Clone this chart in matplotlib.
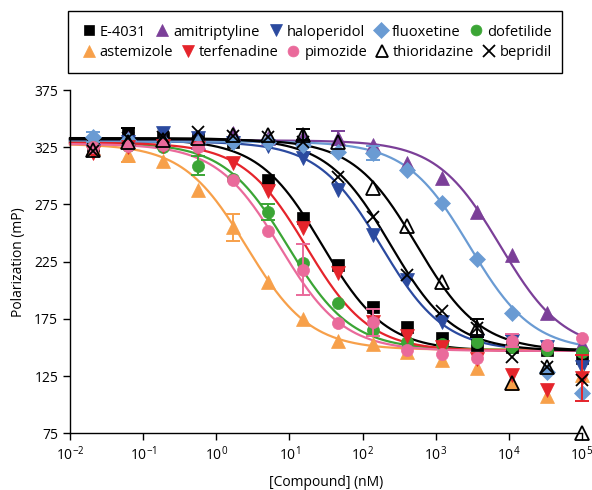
import numpy as np
import matplotlib as mpl
import matplotlib.pyplot as plt
from matplotlib.lines import Line2D
from matplotlib.patches import Rectangle

# 3-fold dilution series, nM (lowest to highest)
CONC = 100000.0 / 3.0 ** np.arange(14, -1, -1)

COMPOUNDS = ["E-4031", "amitriptyline", "haloperidol", "fluoxetine", "dofetilide",
             "astemizole", "terfenadine", "pimozide", "thioridazine", "bepridil"]

# mean polarization (mP)
E4031 = [326, 337, 333, 332, 330, 296, 263, 222, 185, 168, 158, 152, 150, 148, 141]
AMITRIPTYLINE = [324, 333, 333, 330, 337, 333, 334, 333, 327, 311, 298, 268, 231, 180, 153]
HALOPERIDOL = [322, 330, 337, 333, 329, 326, 316, 288, 248, 209, 172, 156, 156, 150, 133]
FLUOXETINE = [334, 331, 330, 329, 330, 330, 327, 321, 320, 305, 276, 227, 180, 129, 110]
DOFETILIDE = [325, 326, 325, 309, 297, 268, 224, 189, 165, 155, 153, 155, 150, 148, 146]
ASTEMIZOLE = [324, 318, 313, 288, 255, 207, 175, 156, 153, 146, 139, 132, 119, 108, 126]
TERFENADINE = [320, 325, 326, 324, 311, 287, 254, 215, 172, 160, 150, 140, 126, 113, 123]
PIMOZIDE = [325, 326, 327, 325, 296, 252, 218, 171, 172, 148, 144, 141, 156, 152, 158]
THIORIDAZINE = [323, 330, 331, 333, 336, 336, 336, 330, 289, 256, 207, 167, 119, 133, 75]
BEPRIDIL = [322, 333, 334, 338, 335, 334, 330, 299, 264, 213, 182, 167, 142, 133, 122]

# error bars (mP), 0 = none drawn
E4031_ERR = [0, 5, 0, 0, 0, 0, 0, 0, 0, 0, 0, 0, 0, 0, 0]
AMITRIPTYLINE_ERR = [0, 0, 0, 0, 0, 0, 0, 6, 0, 0, 0, 0, 0, 0, 0]
HALOPERIDOL_ERR = [0, 0, 0, 0, 0, 0, 0, 0, 0, 0, 0, 0, 5, 0, 0]
FLUOXETINE_ERR = [4, 0, 0, 0, 0, 0, 0, 0, 6, 0, 0, 0, 0, 0, 0]
DOFETILIDE_ERR = [0, 0, 0, 8, 0, 7, 0, 0, 0, 0, 0, 0, 0, 0, 0]
ASTEMIZOLE_ERR = [0, 6, 0, 0, 12, 0, 0, 0, 0, 0, 0, 0, 0, 0, 0]
TERFENADINE_ERR = [0, 0, 0, 0, 0, 0, 0, 0, 0, 0, 0, 0, 0, 0, 20]
PIMOZIDE_ERR = [0, 0, 0, 0, 0, 0, 22, 0, 12, 0, 0, 0, 6, 0, 0]
THIORIDAZINE_ERR = [0, 0, 0, 0, 0, 0, 5, 0, 0, 0, 0, 0, 0, 0, 0]
BEPRIDIL_ERR = [0, 0, 0, 0, 0, 0, 0, 0, 0, 0, 0, 8, 0, 0, 0]

# four-parameter logistic fit parameters: top, bottom, IC50 (nM), Hill slope
TOP = [332, 331, 330, 330, 329, 328, 329, 328, 332, 333]
BOTTOM = [147, 147, 147, 147, 148, 148, 147, 147, 147, 147]
IC50 = [28, 7600, 180, 2900, 9.5, 2.6, 17, 7.5, 550, 240]
HILL = [1.0] * 10

VALUES = [E4031, AMITRIPTYLINE, HALOPERIDOL, FLUOXETINE, DOFETILIDE,
          ASTEMIZOLE, TERFENADINE, PIMOZIDE, THIORIDAZINE, BEPRIDIL]
ERRORS = [E4031_ERR, AMITRIPTYLINE_ERR, HALOPERIDOL_ERR, FLUOXETINE_ERR, DOFETILIDE_ERR,
          ASTEMIZOLE_ERR, TERFENADINE_ERR, PIMOZIDE_ERR, THIORIDAZINE_ERR, BEPRIDIL_ERR]

COLORS = ["#000000", "#7B3F98", "#2B4A9F", "#6A9BD3", "#3BA535",
          "#F7A04A", "#E5242B", "#EA6A9B", "#000000", "#000000"]
MARKERS = ["s", "^", "v", "D", "o", "^", "v", "o", "^", "x"]
SIZES = [8, 9.5, 9.5, 8.5, 8.7, 9.5, 9.5, 8.7, 9.5, 9]

mpl.rcParams.update({
    "font.family": ["Open Sans", "DejaVu Sans"],
    "font.size": 10,
    "mathtext.fontset": "custom",
    "mathtext.rm": "Open Sans",
    "axes.spines.top": False, "axes.spines.right": False,
})


def logistic(x, top, bottom, ic50, hill):
    return bottom + (top - bottom) / (1.0 + (x / ic50) ** hill)


fig = plt.figure(figsize=(5.92, 4.90), dpi=100)
ax = fig.add_axes([0.1182, 0.1157, 0.8649, 0.7006])

xs = np.logspace(-2, 5, 400)
for i in range(len(COMPOUNDS)):
    ax.plot(xs, logistic(xs, TOP[i], BOTTOM[i], IC50[i], HILL[i]),
            color=COLORS[i], linewidth=1.6, zorder=2, clip_on=False)

handles = []
for i, name in enumerate(COMPOUNDS):
    open_marker = name == "thioridazine"
    face = "none" if open_marker else COLORS[i]
    mew = 1.3 if MARKERS[i] == "x" or open_marker else 0.5
    ax.plot(CONC, VALUES[i], linestyle="none", marker=MARKERS[i], markersize=SIZES[i],
            color=COLORS[i], markerfacecolor=face, markeredgecolor=COLORS[i],
            markeredgewidth=mew, zorder=3, clip_on=False)
    err = np.array(ERRORS[i], dtype=float)
    mask = err > 0
    if mask.any():
        ax.errorbar(CONC[mask], np.array(VALUES[i])[mask], yerr=err[mask], fmt="none",
                    ecolor=COLORS[i], elinewidth=1.4, capsize=5, capthick=1.4,
                    zorder=3, clip_on=False)
    handles.append(Line2D([], [], linestyle="none", marker=MARKERS[i], markersize=SIZES[i] * 0.9,
                          color=COLORS[i], markerfacecolor=face, markeredgecolor=COLORS[i],
                          markeredgewidth=mew, label=name))

ax.set_xscale("log")
ax.set_xlim(1e-2, 1e5)
ax.set_ylim(75, 375)
ax.set_xticks([10.0 ** p for p in range(-2, 6)])
ax.set_xticklabels([r"$\mathregular{10^{%d}}$" % p for p in range(-2, 6)])
ax.xaxis.set_minor_locator(mpl.ticker.NullLocator())
ax.set_yticks(range(75, 376, 50))
ax.tick_params(direction="out", length=5, width=1, labelsize=10)
for side in ("left", "bottom"):
    ax.spines[side].set_linewidth(1.0)
ax.set_xlabel("[Compound] (nM)", fontsize=10, labelpad=8)
ax.set_ylabel("Polarization (mP)", fontsize=10, labelpad=6)

# two one-row legends inside a shared frame, each row spread on its own
W, H = 592.0, 490.0
for row, yc in ((0, 32), (1, 53)):
    idx = range(row * 5, row * 5 + 5)
    fig.legend([handles[k] for k in idx], [COMPOUNDS[k] for k in idx],
               ncol=5, mode="expand", loc="center left",
               bbox_to_anchor=(80 / W, 1 - yc / H, 472 / W, 0),
               frameon=False, fontsize=10.5, handletextpad=0.15, handlelength=1.2,
               borderpad=0, borderaxespad=0, columnspacing=0.8)
fig.patches.append(Rectangle((68 / W, 1 - 73 / H), 494 / W, 62 / H, transform=fig.transFigure,
                             fill=False, edgecolor="black", linewidth=1.0))

fig.savefig("out.png", dpi=100, facecolor="white")
